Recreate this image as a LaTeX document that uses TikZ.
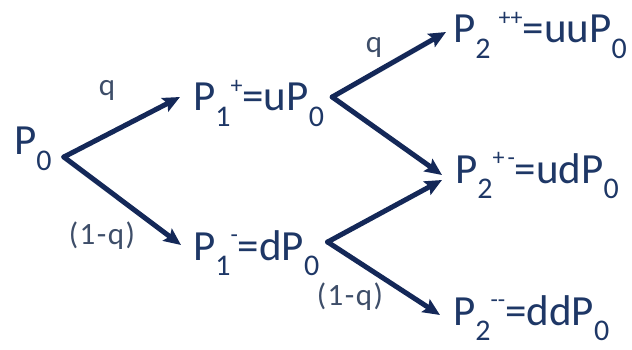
\documentclass[tikz,border=0pt]{standalone}
\usepackage{fontspec}
\setmainfont{Carlito}
\usetikzlibrary{arrows.meta}
\definecolor{txtblue}{RGB}{30,55,102}
\definecolor{arrblue}{RGB}{20,40,88}
\definecolor{lblblue}{RGB}{62,78,105}
\newcommand\sbx[1]{\raisebox{-0.37em}{\fontsize{30}{30}\selectfont #1}}
\newcommand\spx[1]{\raisebox{0.40em}{\fontsize{24}{24}\selectfont #1}}
\newcommand\oneq{(\kern1.5pt1\kern1.5pt-\kern1.5pt q\kern1.5pt)}
\begin{document}
\begin{tikzpicture}[x=1pt,y=-1pt,
  lab/.style={inner sep=0pt, text=txtblue, font=\fontsize{43}{43}\selectfont, anchor=base west},
  prob/.style={inner sep=0pt, text=lblblue, font=\fontsize{31}{31}\selectfont},
  arr/.style={draw=arrblue, line width=5pt, line cap=round, -{Stealth[length=17pt,width=15pt,inset=3pt]}}]
\useasboundingbox (0,0) rectangle (632,350);
\node[lab] (P0) at (14,155) {P\sbx{0}};
\node[lab] (P1u) at (193,111) {P\sbx{1}\spx{+}=uP\sbx{0}};
\node[lab] (P1d) at (193,260) {P\sbx{1}\spx{-}=dP\sbx{0}};
\node[lab] (P2uu) at (453,43) {P\sbx{2}\hspace{8pt}\spx{++}=uuP\sbx{0}};
\node[lab] (P2ud) at (455,183) {P\sbx{2}\spx{+\kern3pt-}=udP\sbx{0}};
\node[lab] (P2dd) at (453,325) {P\sbx{2}\spx{-{}-}=ddP\sbx{0}};
\draw[arr] ([shift={(12,2)}]P0.base east) -- ([shift={(-13,-14)}]P1u.base west);
\draw[arr] ([shift={(12,2)}]P0.base east) -- ([shift={(-12,-15)}]P1d.base west);
\draw[arr] ([shift={(8,-14)}]P1u.base east) -- ([shift={(-7,-11)}]P2uu.base west);
\draw[arr] ([shift={(8,-14)}]P1u.base east) -- ([shift={(-13,-8)}]P2ud.base west);
\draw[arr] ([shift={(8,-18)}]P1d.base east) -- ([shift={(-13,-3)}]P2ud.base west);
\draw[arr] ([shift={(8,-18)}]P1d.base east) -- ([shift={(-13,-10)}]P2dd.base west);
\node[prob] (q1) at (107,90) {q};
\node[prob] (q2) at (374,47) {q};
\node[prob] (q3) at (102,236) {\oneq};
\node[prob] (q4) at (350,297) {\oneq};
\end{tikzpicture}
\end{document}
